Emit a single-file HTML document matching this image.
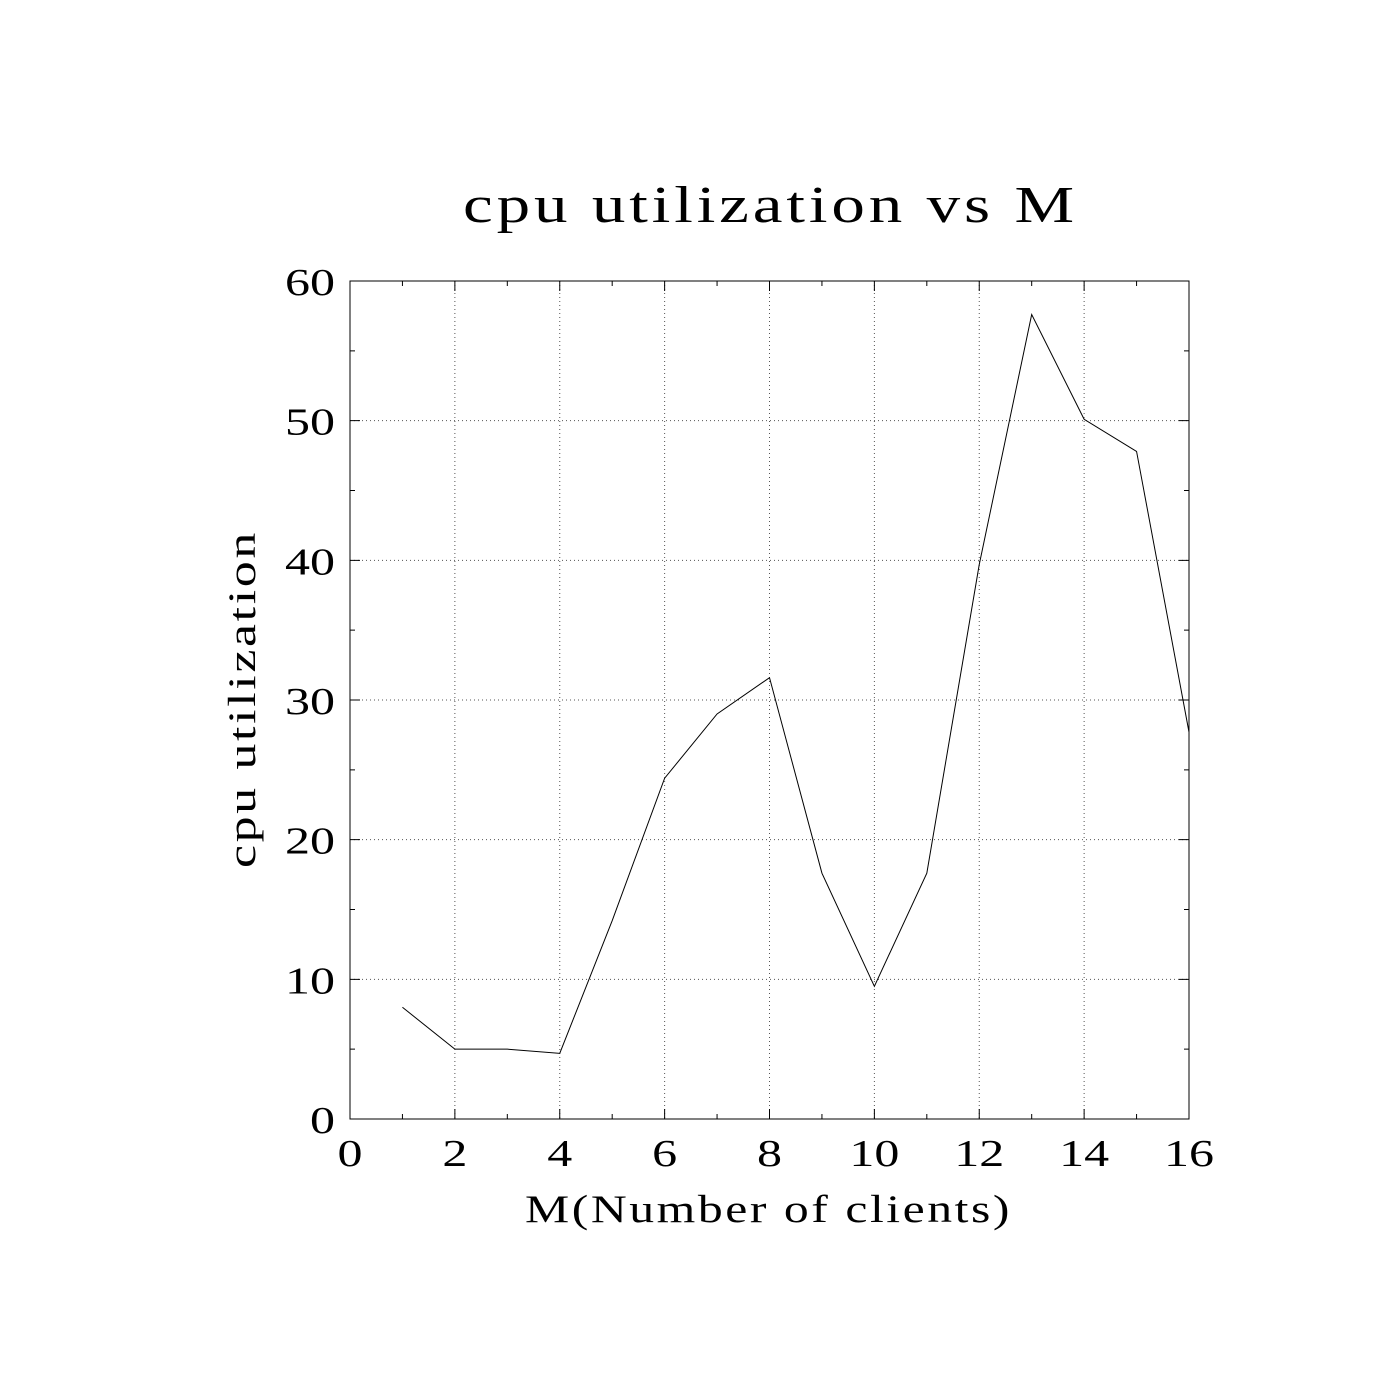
<!DOCTYPE html>
<html><head><meta charset="utf-8"><style>body{margin:0;background:#fff}svg{display:block}</style></head>
<body>
<svg id="chart" width="1400" height="1400" xmlns="http://www.w3.org/2000/svg" font-family="'Liberation Serif', serif">
<rect width="1400" height="1400" fill="#fff"/>
<text x="463" y="222" font-size="52" letter-spacing="3" textLength="615" lengthAdjust="spacingAndGlyphs">cpu utilization vs M</text>
<text x="525" y="1222" font-size="39" letter-spacing="2" textLength="487" lengthAdjust="spacingAndGlyphs">M(Number of clients)</text>
<text transform="translate(255,868) rotate(-90)" font-size="39" letter-spacing="2" textLength="338" lengthAdjust="spacingAndGlyphs">cpu utilization</text>
<g id="grid"></g>
<g id="ticks"></g>
<g id="labels"></g>
<rect x="350" y="281" width="839" height="838" fill="none" stroke="#000" stroke-width="1"/>
<polyline id="line" fill="none" stroke="#000" stroke-width="1"/>
</svg>
<script>
const clients=[1,2,3,4,5,6,7,8,9,10,11,12,13,14,15,16];
const cpu=[8,5,5,4.7,14.2,24.4,29,31.6,17.6,9.5,17.6,39.7,57.6,50.1,47.8,27.7];
const xTicks=[0,2,4,6,8,10,12,14,16];
const yTicks=[0,10,20,30,40,50,60];
const X0=350,X1=1189,Y0=1119,Y1=281;
const sx=v=>X0+(v-0)/16*(X1-X0);
const sy=v=>Y0-(v-0)/60*(Y0-Y1);
const NS='http://www.w3.org/2000/svg';
function mk(tag,attrs,parent){const e=document.createElementNS(NS,tag);for(const k in attrs)e.setAttribute(k,attrs[k]);parent.appendChild(e);return e;}
const grid=document.getElementById('grid'),ticks=document.getElementById('ticks'),labels=document.getElementById('labels');
xTicks.forEach(v=>{const x=sx(v);
 if(v>0&&v<16){const g=mk('line',{x1:x,x2:x,y1:Y1,y2:Y0,stroke:'#555','stroke-width':1,'stroke-dasharray':'1,3'},grid);}
 const t=mk('path',{d:`M${x},${Y0}v-10M${x},${Y1}v10`,stroke:'#000'},ticks);
 const s=String(v);const w=s.length*25;
 const l=mk('text',{x:x-w/2,y:1166,'font-size':38,textLength:w,lengthAdjust:'spacingAndGlyphs'},labels);l.textContent=s;
 if(v<16){const xm=sx(v+1);const m=mk('path',{d:`M${xm},${Y0}v-5M${xm},${Y1}v5`,stroke:'#000'},ticks);}
});
yTicks.forEach(v=>{const y=sy(v);
 if(v>0&&v<60){const g=mk('line',{x1:X0,x2:X1,y1:y,y2:y,stroke:'#555','stroke-width':1,'stroke-dasharray':'1,3'},grid);}
 const t=mk('path',{d:`M${X0},${y}h10M${X1},${y}h-10`,stroke:'#000'},ticks);
 const s=String(v);const w=s.length*25;
 const l=mk('text',{x:335-w,y:y+14,'font-size':38,textLength:w,lengthAdjust:'spacingAndGlyphs'},labels);l.textContent=s;
 if(v<60){const ym=sy(v+5);const m=mk('path',{d:`M${X0},${ym}h5M${X1},${ym}h-5`,stroke:'#000'},ticks);}
});
document.getElementById('line').setAttribute('points',clients.map((c,i)=>sx(c)+','+sy(cpu[i])).join(' '));
</script>
</body></html>
